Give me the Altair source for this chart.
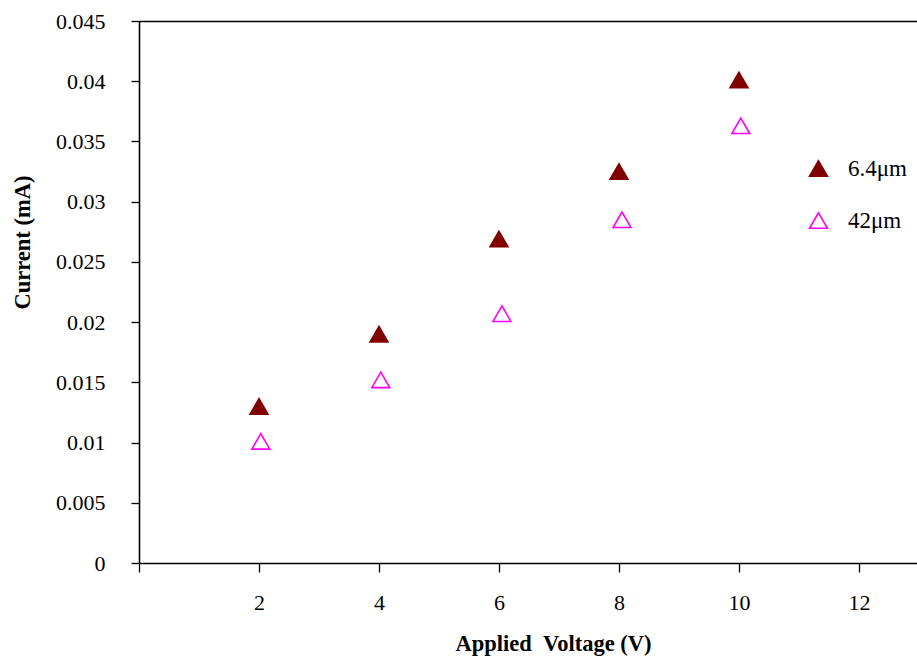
import altair as alt
import pandas as pd

# data
series_names = ["6.4μm", "42μm"]
x_thin = [2, 4, 6, 8, 10]
y_thin = [0.0130, 0.0190, 0.0269, 0.0325, 0.0401]
x_thick = [2.03, 4.03, 6.05, 8.05, 10.03]
y_thick = [0.0101, 0.0152, 0.0207, 0.0285, 0.0363]
x_ticks = [0, 2, 4, 6, 8, 10, 12]
y_ticks = [0, 0.005, 0.01, 0.015, 0.02, 0.025, 0.03, 0.035, 0.04, 0.045]

df = pd.DataFrame({
    "x": x_thin + x_thick,
    "y": y_thin + y_thick,
    "series": [series_names[0]] * len(x_thin) + [series_names[1]] * len(x_thick),
})

FONT = "Liberation Serif"
xscale = alt.Scale(domain=[0, 12.967], nice=False, zero=False)

legend_kw = dict(title=None, orient="none", legendX=668, legendY=136,
                 symbolType="triangle-up", symbolSize=320,
                 symbolStrokeWidth=1.6, labelFont=FONT, labelFontSize=23,
                 labelColor="black", rowPadding=28, labelOffset=18, padding=0)

points = alt.Chart(df).mark_point(
    shape="triangle-up", size=320, strokeWidth=1.6, opacity=1
).encode(
    x=alt.X("x:Q", scale=xscale,
            axis=alt.Axis(values=x_ticks, labelExpr="datum.value == 0 ? '' : datum.label",
                          title="Applied\u00a0\u00a0Voltage (V)", grid=False, tickSize=9,
                          labelPadding=20, titleX=414, titleY=80,
                          titleBaseline="middle", titleAlign="center")),
    y=alt.Y("y:Q", scale=alt.Scale(domain=[0, 0.045], nice=False),
            axis=alt.Axis(values=y_ticks, format="~g", title="Current (mA)", grid=False,
                          tickSize=8, labelPadding=26, titleX=-117, titleY=221,
                          titleAngle=270, titleBaseline="middle", titleAlign="center")),
    fill=alt.Fill("series:N",
                  scale=alt.Scale(domain=series_names, range=["#800000", "transparent"]),
                  legend=alt.Legend(**legend_kw)),
    stroke=alt.Stroke("series:N",
                      scale=alt.Scale(domain=series_names, range=["#800000", "#FF00FF"]),
                      legend=alt.Legend(**legend_kw)),
)

topline = alt.Chart(df).mark_point(opacity=0, size=0).encode(
    x=alt.X("x:Q", scale=xscale,
            axis=alt.Axis(orient="top", labels=False, ticks=False, title=None, grid=False)),
)

chart = alt.layer(points, topline).resolve_axis(x="independent").properties(
    width=778, height=542,
    background="white",
    autosize=alt.AutoSizeParams(type="none"),
    padding={"left": 139, "top": 21, "right": 0, "bottom": 95},
).configure_view(stroke=None).configure_axis(
    labelFont=FONT, labelFontSize=22, labelColor="black",
    titleFont=FONT, titleFontSize=22.5, titleFontWeight="bold", titleColor="black",
    domainColor="black", domainWidth=1.6, tickColor="black", tickWidth=1.3,
)

chart.save("out.html", embed_options={"renderer": "svg", "actions": False})
